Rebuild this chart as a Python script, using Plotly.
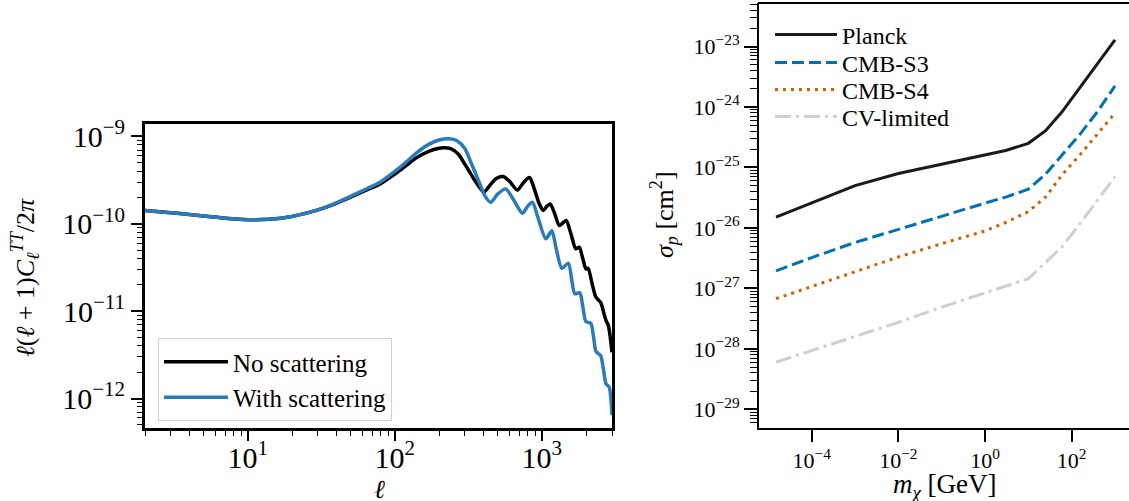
import plotly.graph_objects as go

# ---------------- Left panel: CMB TT spectrum ----------------
ell_no = [2, 3, 4, 5, 7, 10, 14, 20, 30, 40, 50, 65, 80, 100, 120, 140, 170, 200, 216, 240,
          270, 300, 340, 380, 404, 450, 490, 546, 600, 682, 740, 800, 828, 880, 960, 1023,
          1080, 1140, 1220, 1315, 1400, 1466, 1580, 1700, 1795, 1900, 1995, 2065, 2200,
          2333, 2512, 2620, 2729, 2830, 3000]
cl_no = [1.419e-10, 1.343e-10, 1.279e-10, 1.230e-10, 1.161e-10, 1.117e-10, 1.127e-10,
         1.216e-10, 1.445e-10, 1.718e-10, 2.018e-10, 2.455e-10, 2.884e-10, 3.715e-10,
         4.677e-10, 5.689e-10, 6.761e-10, 7.328e-10, 7.413e-10, 7.244e-10, 6.310e-10,
         4.786e-10, 3.388e-10, 2.570e-10, 2.301e-10, 2.851e-10, 3.311e-10, 3.475e-10,
         3.090e-10, 2.432e-10, 2.884e-10, 3.311e-10, 3.388e-10, 2.630e-10, 1.698e-10,
         1.419e-10, 1.585e-10, 1.687e-10, 1.318e-10, 9.55e-11, 1.035e-10, 1.091e-10,
         7.59e-11, 5.18e-11, 5.40e-11, 3.98e-11, 3.05e-11, 3.09e-11, 2.04e-11, 1.445e-11,
         1.259e-11, 1.0e-11, 7.83e-12, 6.92e-12, 3.39e-12]

ell_sc = [2, 3, 4, 5, 7, 10, 14, 20, 30, 40, 50, 65, 80, 100, 120, 140, 170, 200, 234, 265,
          300, 330, 370, 410, 449, 500, 567, 640, 738, 800, 863, 930, 1064, 1170, 1250,
          1368, 1514, 1600, 1675, 1811, 1900, 1995, 2153, 2250, 2333, 2512, 2620, 2729,
          2870, 3000]
cl_sc = [1.419e-10, 1.343e-10, 1.279e-10, 1.230e-10, 1.161e-10, 1.117e-10, 1.127e-10,
         1.216e-10, 1.445e-10, 1.738e-10, 2.065e-10, 2.541e-10, 3.020e-10, 3.981e-10,
         5.129e-10, 6.457e-10, 8.128e-10, 9.120e-10, 9.397e-10, 8.913e-10, 7.244e-10,
         5.012e-10, 3.162e-10, 2.089e-10, 1.766e-10, 2.188e-10, 2.512e-10, 1.905e-10,
         1.318e-10, 1.585e-10, 1.766e-10, 1.259e-10, 6.76e-11, 8.32e-11, 5.25e-11,
         3.09e-11, 3.55e-11, 2.24e-11, 1.585e-11, 1.622e-11, 1.122e-11, 7.59e-12,
         7.24e-12, 5.01e-12, 3.47e-12, 3.09e-12, 2.19e-12, 1.48e-12, 1.35e-12, 6.46e-13]

# ---------------- Right panel: sigma_p limits ----------------
m_chi = [1.5e-5, 1e-4, 1e-3, 1e-2, 1e-1, 1.0, 3.0, 10.0, 25.0, 60.0, 160.0, 400.0, 1000.0]
planck = [1.51e-26, 2.57e-26, 5.01e-26, 7.94e-26, 1.12e-25, 1.62e-25, 1.91e-25, 2.51e-25,
          4.07e-25, 8.32e-25, 2.19e-24, 5.37e-24, 1.29e-23]
cmb_s3 = [1.95e-27, 3.24e-27, 5.75e-27, 9.55e-27, 1.58e-26, 2.57e-26, 3.24e-26, 4.37e-26,
          7.76e-26, 1.62e-25, 3.63e-25, 8.51e-25, 2.24e-24]
cmb_s4 = [6.76e-28, 1.07e-27, 1.91e-27, 3.31e-27, 5.50e-27, 8.91e-27, 1.23e-26, 1.86e-26,
          3.24e-26, 7.59e-26, 1.66e-25, 3.63e-25, 7.94e-25]
cv_lim = [6.03e-29, 9.33e-29, 1.58e-28, 2.75e-28, 4.90e-28, 8.51e-28, 1.10e-27, 1.45e-27,
          2.69e-27, 4.90e-27, 1.20e-26, 2.95e-26, 7.08e-26]

SERIF = "Liberation Serif"
W, H = 1129, 501


def sup(e):
    return "10<sup>" + str(e).replace("-", "\u2212") + "</sup>"


def minor_vals(e0, e1, top=None):
    vals = []
    for e in range(e0, e1 + 1):
        for k in range(2, 10):
            v = k * 10.0 ** e
            if top is None or v <= top:
                vals.append(v)
    return vals


fig = go.Figure()

fig.add_trace(go.Scatter(x=ell_no, y=cl_no, mode="lines", name="No scattering",
                         line=dict(color="#000000", width=3.5, shape="spline", smoothing=0.7),
                         xaxis="x", yaxis="y", legend="legend"))
fig.add_trace(go.Scatter(x=ell_sc, y=cl_sc, mode="lines", name="With scattering",
                         line=dict(color="#2b7bba", width=3.5, shape="spline", smoothing=0.7),
                         xaxis="x", yaxis="y", legend="legend"))

right_series = [
    ("Planck", planck, dict(color="#1a1a1a", width=3), "legend2", 35),
    ("CMB-S3", cmb_s3, dict(color="#0072B2", width=3, dash="12px,5px"), "legend3", 63),
    ("CMB-S4", cmb_s4, dict(color="#D55E00", width=3, dash="3px,5px"), "legend4", 90),
    ("CV-limited", cv_lim, dict(color="#cfcfcf", width=3, dash="16px,5px,3px,5px"), "legend5", 117),
]
for name, vals, line, leg, _ in right_series:
    fig.add_trace(go.Scatter(x=m_chi, y=vals, mode="lines", name=name, line=line,
                             xaxis="x2", yaxis="y2", legend=leg))

y_bot = 1 - 427.5 / H
y_top2 = 1 - 3 / H

fig.update_layout(
    width=W, height=H,
    margin=dict(l=0, r=0, t=0, b=0, autoexpand=False),
    paper_bgcolor="white", plot_bgcolor="white",
    font=dict(family=SERIF, color="black"),
    xaxis=dict(type="log", domain=[145 / W, 612 / W], range=[0.30103, 3.4771],
               showline=True, linewidth=3, linecolor="black", mirror=True,
               showgrid=False, zeroline=False, automargin=False,
               ticks="outside", ticklen=10, tickwidth=1.5, tickcolor="black",
               tickvals=[10, 100, 1000], ticktext=[sup(1), sup(2), sup(3)],
               tickfont=dict(family=SERIF, size=30), ticklabelstandoff=-9,
               minor=dict(tickvals=minor_vals(0, 3, 3000), ticks="outside", ticklen=5,
                          tickwidth=1, tickcolor="black", showgrid=False),
               anchor="y"),
    yaxis=dict(type="log", domain=[y_bot, 1 - 124 / H], range=[-12.332, -8.857],
               showline=True, linewidth=3, linecolor="black", mirror=True,
               showgrid=False, zeroline=False, automargin=False,
               ticks="outside", ticklen=11, tickwidth=1.5, tickcolor="black",
               tickvals=[1e-12, 1e-11, 1e-10, 1e-9],
               ticktext=[sup(-12), sup(-11), sup(-10), sup(-9)],
               tickfont=dict(family=SERIF, size=30),
               minor=dict(tickvals=minor_vals(-13, -10), ticks="outside", ticklen=5,
                          tickwidth=1, tickcolor="black", showgrid=False),
               anchor="x"),
    xaxis2=dict(type="log", domain=[759 / W, 1.0], range=[-5.217, 3.323],
                showline=True, linewidth=2, linecolor="black", mirror=False,
                showgrid=False, zeroline=False, automargin=False,
                ticks="outside", ticklen=12, tickwidth=1.5, tickcolor="black",
                tickvals=[1e-4, 1e-2, 1, 1e2], ticktext=[sup(-4), sup(-2), sup(0), sup(2)],
                tickfont=dict(family=SERIF, size=22),
                anchor="y2"),
    yaxis2=dict(type="log", domain=[y_bot, y_top2], range=[-29.3, -22.28],
                showline=True, linewidth=2, linecolor="black", mirror=False,
                showgrid=False, zeroline=False, automargin=False,
                ticks="outside", ticklen=13, tickwidth=1.5, tickcolor="black",
                tickvals=[1e-29, 1e-28, 1e-27, 1e-26, 1e-25, 1e-24, 1e-23],
                ticktext=[sup(e) for e in range(-29, -22)],
                tickfont=dict(family=SERIF, size=22),
                minor=dict(tickvals=minor_vals(-30, -23), ticks="outside", ticklen=7,
                           tickwidth=1, tickcolor="black", showgrid=False),
                anchor="x2"),
    legend=dict(x=158 / W, y=1 - 338 / H, xanchor="left", yanchor="top",
                bgcolor="rgba(255,255,255,0.85)", bordercolor="#d0d0d0", borderwidth=1,
                font=dict(family=SERIF, size=25), itemwidth=64,
                tracegroupgap=0),
    showlegend=True,
    # top spine of the right panel (its right spine lies outside the picture)
    shapes=[dict(type="line", xref="paper", yref="paper", x0=758 / W, x1=1.0,
                 y0=y_top2, y1=y_top2, line=dict(color="black", width=2))],
)

for name, vals, line, leg, yc in right_series:
    fig.update_layout({leg: dict(x=770 / W, y=1 - yc / H, xanchor="left", yanchor="middle",
                                 bgcolor="rgba(255,255,255,0)", borderwidth=0,
                                 font=dict(family=SERIF, size=24), itemwidth=62)})

ann = [
    dict(text="<i>\u2113</i>(<i>\u2113</i> + 1)<i>C</i><sub><i>\u2113</i></sub><sup><i>TT</i></sup>/2<i>\u03c0</i>",
         x=25 / W, y=1 - 278 / H, textangle=-90, font=dict(family=SERIF, size=26)),
    dict(text="<i>\u2113</i>", x=379 / W, y=1 - 489 / H, font=dict(family=SERIF, size=26)),
    dict(text="<i>\u03c3</i><sub><i>p</i></sub> [cm<sup>2</sup>]",
         x=664 / W, y=1 - 215 / H, textangle=-90, font=dict(family=SERIF, size=26)),
    dict(text="<i>m</i><sub><i>\u03c7</i></sub> [GeV]", x=945 / W, y=1 - 486 / H,
         font=dict(family=SERIF, size=27)),
]
for a in ann:
    a.update(xref="paper", yref="paper", showarrow=False, xanchor="center", yanchor="middle")
fig.update_layout(annotations=ann)

fig.write_html("out.html", config={"displayModeBar": False},
               post_script="document.body.style.margin='0px';document.body.style.overflow='hidden';")
